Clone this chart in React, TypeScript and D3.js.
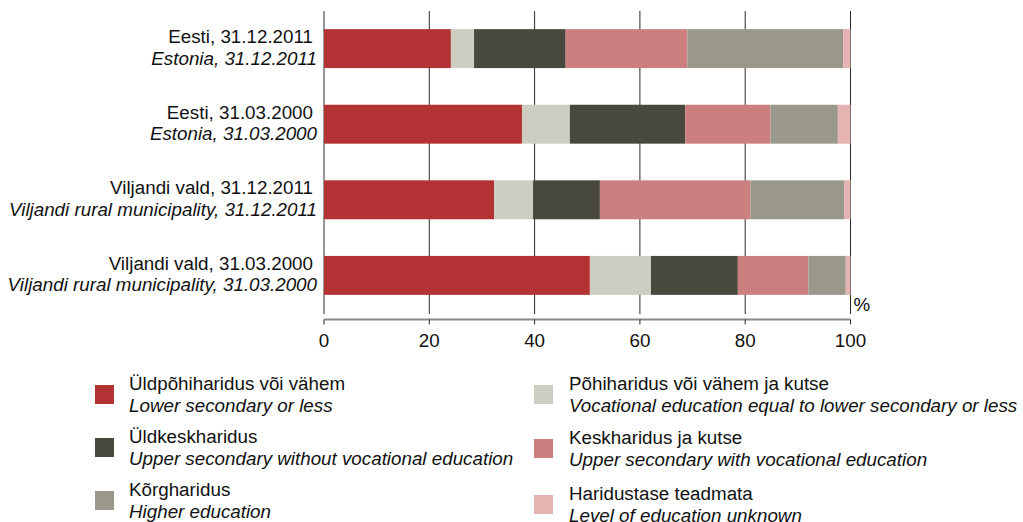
import * as d3 from "d3"
import React from "react"

const categories = [
  ["Eesti, 31.12.2011", "Estonia, 31.12.2011"],
  ["Eesti, 31.03.2000", "Estonia, 31.03.2000"],
  ["Viljandi vald, 31.12.2011", "Viljandi rural municipality, 31.12.2011"],
  ["Viljandi vald, 31.03.2000", "Viljandi rural municipality, 31.03.2000"],
]

const seriesNames = [
  ["Üldpõhiharidus või vähem", "Lower secondary or less"],
  ["Põhiharidus või vähem ja kutse", "Vocational education equal to lower secondary or less"],
  ["Üldkeskharidus", "Upper secondary without vocational education"],
  ["Keskharidus ja kutse", "Upper secondary with vocational education"],
  ["Kõrgharidus", "Higher education"],
  ["Haridustase teadmata", "Level of education unknown"],
]

const colors = ["#b33334", "#cdcdc1", "#48483c", "#cc7f7f", "#9a988a", "#e6b3b3"]

// one array per series, in category order
const lowerSecondary = [24.1, 37.6, 32.3, 50.5]
const vocLower = [4.4, 9.1, 7.4, 11.6]
const upperSecondary = [17.4, 21.9, 12.7, 16.5]
const vocUpper = [23.1, 16.2, 28.6, 13.4]
const higher = [29.6, 12.8, 17.8, 7.1]
const unknown = [1.4, 2.4, 1.2, 0.9]

const xTicks = [0, 20, 40, 60, 80, 100]

const W = 1023,
  H = 522
const FONT = "'Liberation Sans', Arial, sans-serif"
const FS = 18.8

function App() {
  const series = [lowerSecondary, vocLower, upperSecondary, vocUpper, higher, unknown]
  const rows = categories.map((c, i) => {
    const r: any = { key: i }
    series.forEach((s, j) => (r["s" + j] = s[i]))
    return r
  })
  const stacked = d3.stack().keys(series.map((_, j) => "s" + j))(rows)

  const x = d3.scaleLinear().domain([0, 100]).range([324, 850.5])
  const y = d3
    .scaleBand<number>()
    .domain(d3.range(categories.length))
    .range([11, 313])
    .paddingInner(0.485)
    .paddingOuter(0.24)

  const axisY = 319.5

  // legend layout: two columns, three rows
  const legendCols = [
    { sx: 95, tx: 129, tops: [385, 438, 491] },
    { sx: 534, tx: 569, tops: [385, 439, 495] },
  ]

  return (
    <svg
      width={W}
      height={H}
      style={{ position: "absolute", left: 0, top: 0, display: "block", background: "#fff" }}
      fontFamily={FONT}
      fontSize={FS}
    >
      {/* gridlines */}
      {xTicks.map((t) => (
        <line key={t} x1={x(t)} x2={x(t)} y1={11} y2={314} stroke="#2a2a2a" strokeWidth={1} />
      ))}

      {/* bars */}
      {stacked.map((layer, j) =>
        layer.map((d, i) => (
          <rect
            key={j + "-" + i}
            x={x(d[0])}
            width={x(d[1]) - x(d[0])}
            y={y(i)}
            height={y.bandwidth()}
            fill={colors[j]}
          />
        ))
      )}

      {/* category labels */}
      {categories.map((c, i) => {
        const cy = (y(i) as number) + y.bandwidth() / 2
        return (
          <g key={i} textAnchor="end" fill="#111">
            <text x={313} y={cy - 5.3}>{c[0]}</text>
            <text x={317} y={cy + 16} fontStyle="italic">{c[1]}</text>
          </g>
        )
      })}

      {/* x axis */}
      <line x1={x(0)} x2={x(100)} y1={axisY} y2={axisY} stroke="#8a8a8a" strokeWidth={2} />
      {xTicks.map((t) => (
        <g key={t}>
          <line x1={x(t)} x2={x(t)} y1={axisY} y2={axisY + 5} stroke="#2a2a2a" strokeWidth={1} />
          <text x={x(t)} y={axisY + 27} textAnchor="middle" fill="#111">{t}</text>
        </g>
      ))}
      <text x={x(100) + 3} y={311} fill="#111">%</text>

      {/* legend */}
      {seriesNames.map((n, k) => {
        const col = legendCols[k % 2]
        const top = col.tops[Math.floor(k / 2)]
        return (
          <g key={k} fill="#111">
            <rect x={col.sx} y={top} width={19} height={19} fill={colors[k]} />
            <text x={col.tx} y={top + 5}>{n[0]}</text>
            <text x={col.tx} y={top + 26.5} fontStyle="italic">{n[1]}</text>
          </g>
        )
      })}
    </svg>
  )
}

export default App
